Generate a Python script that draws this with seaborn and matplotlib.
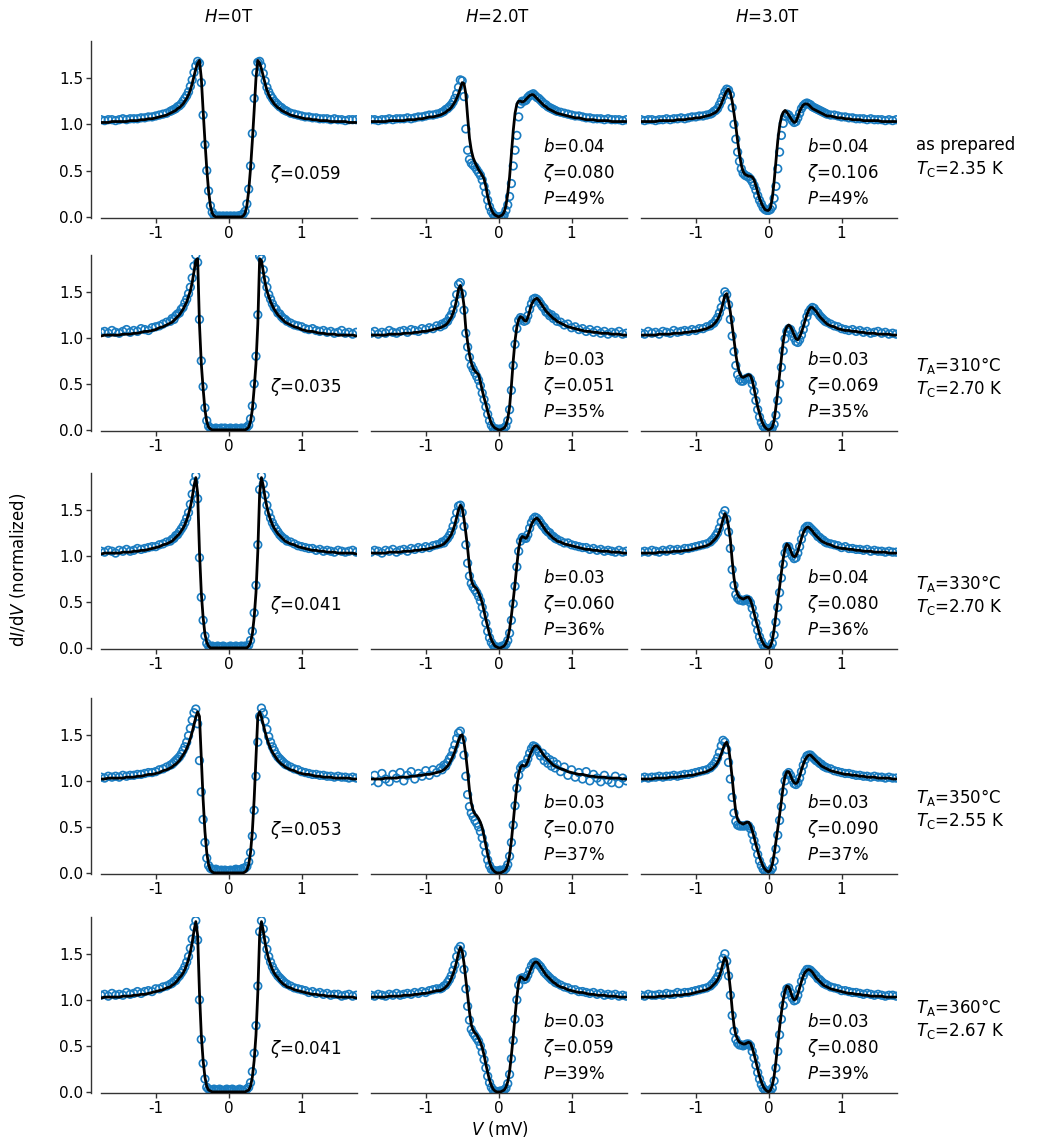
import numpy as np
import pandas as pd
import seaborn as sns
import matplotlib
matplotlib.use("Agg")
import matplotlib.pyplot as plt

# ---------------- data ----------------
V_MV = [-1.75, -1.70, -1.65, -1.60, -1.55, -1.50, -1.45, -1.40, -1.35, -1.30, -1.25, -1.20, -1.15, -1.10, -1.05, -1.00, -0.95, -0.90, -0.85,
        -0.800, -0.775, -0.750, -0.725, -0.700, -0.675, -0.650, -0.625, -0.600, -0.575, -0.550, -0.525, -0.500, -0.475, -0.450, -0.425,
        -0.400, -0.375, -0.350, -0.325, -0.300, -0.275, -0.250, -0.225, -0.200, -0.175, -0.150, -0.125, -0.100, -0.075, -0.050, -0.025,
        0.000,
        0.025, 0.050, 0.075, 0.100, 0.125, 0.150, 0.175, 0.200, 0.225, 0.250, 0.275, 0.300, 0.325, 0.350, 0.375, 0.400,
        0.425, 0.450, 0.475, 0.500, 0.525, 0.550, 0.575, 0.600, 0.625, 0.650, 0.675, 0.700, 0.725, 0.750, 0.775, 0.800,
        0.85, 0.90, 0.95, 1.00, 1.05, 1.10, 1.15, 1.20, 1.25, 1.30, 1.35, 1.40, 1.45, 1.50, 1.55, 1.60, 1.65, 1.70, 1.75]

# ----- row 1: as prepared -----
FIT_R1_H0 = [1.02, 1.02, 1.02, 1.03, 1.03, 1.03, 1.03, 1.03, 1.04, 1.04, 1.04, 1.05, 1.05, 1.06, 1.06, 1.07, 1.08, 1.09, 1.10,
             1.12, 1.13, 1.14, 1.15, 1.17, 1.18, 1.20, 1.22, 1.25, 1.28, 1.32, 1.37, 1.44, 1.52, 1.60, 1.66, 1.69, 1.50, 1.15, 0.82, 0.52, 0.28, 0.12, 0.04, 0.01, 0.00, 0.00, 0.00, 0.00, 0.00, 0.00, 0.00,
             0.00,
             0.00, 0.00, 0.00, 0.00, 0.00, 0.00, 0.00, 0.01, 0.04, 0.12, 0.28, 0.52, 0.82, 1.15, 1.50, 1.69, 1.66, 1.60, 1.52, 1.44, 1.37, 1.32, 1.28, 1.25, 1.22, 1.20, 1.18, 1.17, 1.15, 1.14, 1.13, 1.12,
             1.10, 1.09, 1.08, 1.07, 1.06, 1.06, 1.05, 1.05, 1.04, 1.04, 1.04, 1.03, 1.03, 1.03, 1.03, 1.03, 1.02, 1.02, 1.02]
DAT_R1_H0 = [1.05, 1.04, 1.05, 1.05, 1.04, 1.05, 1.06, 1.05, 1.06, 1.06, 1.06, 1.07, 1.07, 1.08, 1.08, 1.09, 1.10, 1.11, 1.12,
             1.14, 1.15, 1.16, 1.17, 1.19, 1.20, 1.22, 1.25, 1.28, 1.31, 1.35, 1.41, 1.48, 1.56, 1.63, 1.68, 1.66, 1.45, 1.10, 0.78, 0.50, 0.28, 0.12, 0.05, 0.02, 0.01, 0.00, 0.01, 0.00, 0.01, 0.00, 0.01,
             0.00,
             0.01, 0.00, 0.01, 0.00, 0.01, 0.01, 0.02, 0.03, 0.06, 0.14, 0.30, 0.55, 0.90, 1.28, 1.56, 1.67, 1.68, 1.63, 1.55, 1.47, 1.40, 1.35, 1.31, 1.28, 1.25, 1.23, 1.21, 1.19, 1.18, 1.16, 1.15, 1.14,
             1.12, 1.11, 1.10, 1.09, 1.08, 1.08, 1.07, 1.07, 1.06, 1.06, 1.06, 1.05, 1.06, 1.05, 1.05, 1.04, 1.05, 1.05, 1.05]
FIT_R1_H2 = [1.03, 1.03, 1.03, 1.03, 1.03, 1.04, 1.04, 1.04, 1.04, 1.04, 1.05, 1.05, 1.05, 1.06, 1.06, 1.07, 1.08, 1.08, 1.09,
             1.10, 1.11, 1.12, 1.13, 1.15, 1.16, 1.18, 1.21, 1.24, 1.28, 1.33, 1.39, 1.45, 1.44, 1.33, 1.08, 0.85, 0.72, 0.64, 0.59, 0.55, 0.51, 0.48, 0.45, 0.41, 0.33, 0.22, 0.14, 0.08, 0.04, 0.02, 0.01,
             0.00,
             0.01, 0.02, 0.05, 0.12, 0.25, 0.43, 0.68, 0.93, 1.12, 1.22, 1.25, 1.25, 1.24, 1.25, 1.27, 1.29, 1.31, 1.32, 1.32, 1.30, 1.28, 1.26, 1.24, 1.22, 1.20, 1.19, 1.17, 1.16, 1.15, 1.14, 1.13, 1.12,
             1.11, 1.10, 1.09, 1.08, 1.07, 1.07, 1.06, 1.05, 1.05, 1.05, 1.04, 1.04, 1.04, 1.04, 1.03, 1.03, 1.03, 1.03, 1.03]
DAT_R1_H2 = [1.05, 1.05, 1.04, 1.05, 1.05, 1.06, 1.05, 1.06, 1.06, 1.06, 1.07, 1.06, 1.07, 1.08, 1.08, 1.09, 1.10, 1.10, 1.11,
             1.12, 1.13, 1.14, 1.16, 1.17, 1.19, 1.21, 1.24, 1.28, 1.33, 1.40, 1.48, 1.47, 1.30, 0.95, 0.72, 0.62, 0.58, 0.56, 0.54, 0.51, 0.48, 0.45, 0.40, 0.33, 0.26, 0.18, 0.11, 0.06, 0.03, 0.01, 0.00,
             0.00,
             0.00, 0.01, 0.02, 0.07, 0.13, 0.22, 0.36, 0.55, 0.72, 0.88, 1.08, 1.22, 1.25, 1.25, 1.26, 1.29, 1.31, 1.32, 1.33, 1.31, 1.29, 1.28, 1.26, 1.24, 1.22, 1.21, 1.19, 1.18, 1.17, 1.16, 1.15, 1.14,
             1.13, 1.12, 1.11, 1.10, 1.09, 1.09, 1.08, 1.07, 1.07, 1.06, 1.06, 1.06, 1.05, 1.06, 1.05, 1.05, 1.05, 1.04, 1.05]
FIT_R1_H3 = [1.03, 1.03, 1.03, 1.03, 1.03, 1.04, 1.04, 1.04, 1.04, 1.04, 1.05, 1.05, 1.05, 1.06, 1.06, 1.07, 1.07, 1.08, 1.09,
             1.10, 1.11, 1.12, 1.13, 1.15, 1.18, 1.22, 1.27, 1.32, 1.36, 1.38, 1.34, 1.25, 1.12, 0.98, 0.82, 0.68, 0.56, 0.49, 0.46, 0.45, 0.44, 0.44, 0.43, 0.40, 0.34, 0.27, 0.20, 0.15, 0.11, 0.08, 0.07,
             0.07,
             0.10, 0.20, 0.38, 0.60, 0.82, 0.98, 1.08, 1.13, 1.15, 1.13, 1.10, 1.07, 1.04, 1.02, 1.03, 1.08, 1.14, 1.18, 1.21, 1.22, 1.22, 1.21, 1.19, 1.17, 1.16, 1.15, 1.14, 1.13, 1.12, 1.11, 1.10, 1.09,
             1.09, 1.08, 1.07, 1.07, 1.06, 1.06, 1.05, 1.05, 1.05, 1.04, 1.04, 1.04, 1.04, 1.04, 1.03, 1.03, 1.03, 1.03, 1.03]
DAT_R1_H3 = [1.05, 1.04, 1.05, 1.05, 1.04, 1.05, 1.05, 1.06, 1.05, 1.06, 1.06, 1.07, 1.06, 1.07, 1.08, 1.08, 1.09, 1.09, 1.10,
             1.11, 1.12, 1.14, 1.15, 1.17, 1.21, 1.25, 1.30, 1.35, 1.38, 1.37, 1.32, 1.18, 1.00, 0.84, 0.70, 0.60, 0.52, 0.47, 0.45, 0.44, 0.43, 0.41, 0.38, 0.34, 0.29, 0.23, 0.18, 0.14, 0.10, 0.08, 0.07,
             0.07,
             0.08, 0.11, 0.20, 0.33, 0.52, 0.70, 0.88, 1.01, 1.09, 1.11, 1.10, 1.07, 1.04, 1.02, 1.03, 1.07, 1.12, 1.17, 1.20, 1.22, 1.23, 1.22, 1.21, 1.19, 1.18, 1.17, 1.16, 1.15, 1.14, 1.13, 1.12, 1.11,
             1.10, 1.10, 1.09, 1.08, 1.08, 1.07, 1.07, 1.06, 1.06, 1.06, 1.05, 1.06, 1.05, 1.05, 1.05, 1.04, 1.05, 1.04, 1.05]

# ----- row 2: TA = 310 C -----
FIT_R2_H0 = [1.02, 1.03, 1.03, 1.03, 1.03, 1.03, 1.04, 1.04, 1.04, 1.05, 1.05, 1.06, 1.07, 1.07, 1.08, 1.09, 1.11, 1.12, 1.14,
             1.16, 1.17, 1.19, 1.21, 1.23, 1.25, 1.28, 1.31, 1.35, 1.39, 1.45, 1.51, 1.60, 1.72, 1.84, 1.86, 1.15, 0.72, 0.45, 0.22, 0.09, 0.03, 0.01, 0.00, 0.00, 0.00, 0.00, 0.00, 0.00, 0.00, 0.00, 0.00,
             0.00,
             0.00, 0.00, 0.00, 0.00, 0.00, 0.00, 0.00, 0.00, 0.00, 0.01, 0.03, 0.09, 0.22, 0.45, 0.72, 1.15, 1.86, 1.84, 1.72, 1.60, 1.51, 1.45, 1.39, 1.35, 1.31, 1.28, 1.25, 1.23, 1.21, 1.19, 1.17, 1.16,
             1.14, 1.12, 1.11, 1.09, 1.08, 1.07, 1.07, 1.06, 1.05, 1.05, 1.04, 1.04, 1.04, 1.03, 1.03, 1.03, 1.03, 1.03, 1.02]
DAT_R2_H0 = [1.06, 1.07, 1.05, 1.08, 1.06, 1.05, 1.07, 1.09, 1.06, 1.08, 1.07, 1.10, 1.09, 1.08, 1.11, 1.12, 1.13, 1.15, 1.17,
             1.18, 1.21, 1.20, 1.24, 1.26, 1.27, 1.31, 1.33, 1.38, 1.42, 1.48, 1.55, 1.65, 1.78, 1.90, 1.82, 1.20, 0.75, 0.47, 0.24, 0.10, 0.04, 0.02, 0.01, 0.00, 0.02, 0.01, 0.00, 0.02, 0.01, 0.02, 0.00,
             0.01,
             0.02, 0.00, 0.01, 0.02, 0.00, 0.01, 0.02, 0.01, 0.02, 0.03, 0.05, 0.12, 0.26, 0.50, 0.80, 1.25, 1.89, 1.86, 1.74, 1.63, 1.55, 1.47, 1.42, 1.37, 1.33, 1.31, 1.27, 1.26, 1.23, 1.21, 1.20, 1.18,
             1.16, 1.14, 1.13, 1.12, 1.10, 1.09, 1.10, 1.08, 1.07, 1.08, 1.06, 1.07, 1.05, 1.06, 1.08, 1.05, 1.06, 1.04, 1.06]
FIT_R2_H2 = [1.03, 1.03, 1.03, 1.03, 1.03, 1.04, 1.04, 1.04, 1.04, 1.05, 1.05, 1.05, 1.06, 1.06, 1.07, 1.07, 1.08, 1.09, 1.10,
             1.11, 1.12, 1.13, 1.14, 1.16, 1.19, 1.22, 1.27, 1.33, 1.42, 1.53, 1.57, 1.50, 1.35, 1.10, 0.95, 0.82, 0.73, 0.67, 0.64, 0.62, 0.60, 0.52, 0.43, 0.35, 0.28, 0.20, 0.13, 0.07, 0.04, 0.02, 0.01,
             0.00,
             0.00, 0.01, 0.02, 0.05, 0.12, 0.25, 0.48, 0.75, 0.97, 1.12, 1.20, 1.23, 1.22, 1.19, 1.18, 1.22, 1.29, 1.36, 1.40, 1.42, 1.43, 1.41, 1.38, 1.35, 1.32, 1.29, 1.27, 1.25, 1.23, 1.21, 1.20, 1.18,
             1.16, 1.14, 1.12, 1.11, 1.10, 1.09, 1.08, 1.07, 1.07, 1.06, 1.06, 1.05, 1.05, 1.05, 1.04, 1.04, 1.04, 1.03, 1.03]
DAT_R2_H2 = [1.05, 1.07, 1.04, 1.06, 1.05, 1.08, 1.06, 1.05, 1.07, 1.08, 1.06, 1.09, 1.08, 1.07, 1.10, 1.09, 1.11, 1.10, 1.13,
             1.12, 1.15, 1.14, 1.17, 1.18, 1.22, 1.25, 1.30, 1.37, 1.47, 1.58, 1.60, 1.48, 1.30, 1.05, 0.90, 0.79, 0.70, 0.66, 0.62, 0.58, 0.54, 0.48, 0.40, 0.33, 0.25, 0.17, 0.10, 0.05, 0.02, 0.01, 0.01,
             0.00,
             0.01, 0.00, 0.02, 0.04, 0.10, 0.22, 0.43, 0.70, 0.93, 1.10, 1.19, 1.22, 1.21, 1.18, 1.19, 1.24, 1.31, 1.37, 1.42, 1.43, 1.42, 1.40, 1.37, 1.34, 1.32, 1.28, 1.27, 1.24, 1.25, 1.21, 1.22, 1.18,
             1.17, 1.14, 1.15, 1.11, 1.12, 1.09, 1.10, 1.07, 1.09, 1.06, 1.08, 1.05, 1.07, 1.04, 1.06, 1.05, 1.07, 1.04, 1.05]
FIT_R2_H3 = [1.03, 1.03, 1.03, 1.03, 1.03, 1.04, 1.04, 1.04, 1.04, 1.05, 1.05, 1.05, 1.06, 1.06, 1.07, 1.07, 1.08, 1.09, 1.10,
             1.12, 1.13, 1.15, 1.17, 1.20, 1.24, 1.30, 1.38, 1.46, 1.48, 1.40, 1.28, 1.13, 0.98, 0.82, 0.70, 0.62, 0.58, 0.57, 0.58, 0.59, 0.60, 0.59, 0.54, 0.45, 0.35, 0.25, 0.18, 0.11, 0.06, 0.03, 0.01,
             0.00,
             0.01, 0.03, 0.10, 0.25, 0.42, 0.60, 0.78, 0.96, 1.07, 1.12, 1.14, 1.12, 1.08, 1.03, 0.99, 0.98, 1.01, 1.06, 1.12, 1.19, 1.25, 1.30, 1.33, 1.33, 1.31, 1.29, 1.26, 1.23, 1.21, 1.19, 1.17, 1.15,
             1.13, 1.12, 1.10, 1.09, 1.08, 1.08, 1.07, 1.07, 1.06, 1.06, 1.05, 1.05, 1.05, 1.04, 1.04, 1.04, 1.04, 1.03, 1.03]
DAT_R2_H3 = [1.05, 1.04, 1.07, 1.05, 1.06, 1.04, 1.07, 1.06, 1.05, 1.08, 1.06, 1.07, 1.08, 1.07, 1.09, 1.08, 1.10, 1.10, 1.12,
             1.13, 1.15, 1.16, 1.19, 1.22, 1.27, 1.33, 1.42, 1.50, 1.47, 1.36, 1.20, 1.02, 0.85, 0.70, 0.60, 0.55, 0.53, 0.53, 0.55, 0.56, 0.57, 0.55, 0.50, 0.42, 0.32, 0.22, 0.14, 0.08, 0.04, 0.02, 0.01,
             0.01,
             0.02, 0.02, 0.06, 0.16, 0.32, 0.50, 0.68, 0.86, 0.99, 1.07, 1.10, 1.09, 1.05, 1.00, 0.96, 0.95, 0.98, 1.03, 1.09, 1.16, 1.23, 1.28, 1.31, 1.33, 1.32, 1.29, 1.27, 1.24, 1.22, 1.20, 1.18, 1.17,
             1.15, 1.13, 1.12, 1.10, 1.09, 1.08, 1.09, 1.07, 1.08, 1.06, 1.07, 1.05, 1.06, 1.07, 1.05, 1.06, 1.04, 1.05, 1.04]

# ----- row 3: TA = 330 C -----
FIT_R3_H0 = [1.02, 1.03, 1.03, 1.03, 1.03, 1.03, 1.04, 1.04, 1.04, 1.05, 1.05, 1.06, 1.06, 1.07, 1.08, 1.09, 1.10, 1.12, 1.13,
             1.15, 1.16, 1.18, 1.20, 1.22, 1.24, 1.27, 1.30, 1.34, 1.39, 1.45, 1.53, 1.63, 1.76, 1.85, 1.68, 1.05, 0.60, 0.33, 0.15, 0.06, 0.02, 0.00, 0.00, 0.00, 0.00, 0.00, 0.00, 0.00, 0.00, 0.00, 0.00,
             0.00,
             0.00, 0.00, 0.00, 0.00, 0.00, 0.00, 0.00, 0.00, 0.00, 0.00, 0.02, 0.06, 0.15, 0.33, 0.60, 1.05, 1.68, 1.85, 1.76, 1.63, 1.53, 1.45, 1.39, 1.34, 1.30, 1.27, 1.24, 1.22, 1.20, 1.18, 1.16, 1.15,
             1.13, 1.12, 1.10, 1.09, 1.08, 1.07, 1.06, 1.06, 1.05, 1.05, 1.04, 1.04, 1.04, 1.03, 1.03, 1.03, 1.03, 1.03, 1.02]
DAT_R3_H0 = [1.05, 1.04, 1.06, 1.05, 1.03, 1.06, 1.05, 1.07, 1.05, 1.06, 1.08, 1.07, 1.08, 1.09, 1.10, 1.10, 1.12, 1.13, 1.15,
             1.16, 1.18, 1.19, 1.22, 1.23, 1.26, 1.29, 1.32, 1.36, 1.41, 1.47, 1.56, 1.67, 1.80, 1.87, 1.62, 0.98, 0.55, 0.30, 0.13, 0.05, 0.02, 0.01, 0.02, 0.00, 0.01, 0.02, 0.00, 0.01, 0.02, 0.01, 0.00,
             0.01,
             0.02, 0.00, 0.01, 0.02, 0.01, 0.00, 0.02, 0.01, 0.02, 0.01, 0.03, 0.08, 0.18, 0.38, 0.68, 1.12, 1.72, 1.87, 1.78, 1.66, 1.55, 1.47, 1.41, 1.36, 1.32, 1.29, 1.26, 1.23, 1.21, 1.19, 1.18, 1.16,
             1.15, 1.13, 1.11, 1.10, 1.09, 1.08, 1.08, 1.06, 1.07, 1.05, 1.06, 1.05, 1.04, 1.06, 1.05, 1.04, 1.05, 1.06, 1.04]
FIT_R3_H2 = [1.03, 1.03, 1.03, 1.03, 1.03, 1.04, 1.04, 1.04, 1.04, 1.05, 1.05, 1.05, 1.06, 1.06, 1.07, 1.07, 1.08, 1.09, 1.10,
             1.11, 1.12, 1.13, 1.15, 1.17, 1.20, 1.23, 1.28, 1.34, 1.42, 1.50, 1.55, 1.52, 1.40, 1.25, 1.08, 0.88, 0.74, 0.68, 0.66, 0.64, 0.60, 0.55, 0.49, 0.40, 0.31, 0.23, 0.15, 0.09, 0.05, 0.02, 0.01,
             0.00,
             0.00, 0.01, 0.02, 0.05, 0.10, 0.20, 0.35, 0.52, 0.70, 0.90, 1.08, 1.18, 1.21, 1.20, 1.19, 1.22, 1.28, 1.34, 1.38, 1.40, 1.41, 1.39, 1.36, 1.33, 1.30, 1.27, 1.25, 1.23, 1.21, 1.19, 1.18, 1.16,
             1.15, 1.13, 1.12, 1.11, 1.10, 1.09, 1.08, 1.07, 1.07, 1.06, 1.06, 1.05, 1.05, 1.05, 1.04, 1.04, 1.04, 1.03, 1.03]
DAT_R3_H2 = [1.04, 1.06, 1.05, 1.03, 1.06, 1.05, 1.07, 1.04, 1.06, 1.07, 1.05, 1.08, 1.07, 1.09, 1.08, 1.10, 1.09, 1.11, 1.12,
             1.13, 1.15, 1.14, 1.17, 1.19, 1.22, 1.26, 1.32, 1.39, 1.47, 1.54, 1.55, 1.47, 1.32, 1.12, 0.92, 0.78, 0.70, 0.66, 0.63, 0.60, 0.56, 0.51, 0.44, 0.36, 0.27, 0.18, 0.11, 0.06, 0.03, 0.01, 0.01,
             0.00,
             0.01, 0.02, 0.02, 0.04, 0.08, 0.16, 0.30, 0.48, 0.67, 0.88, 1.05, 1.16, 1.20, 1.19, 1.19, 1.23, 1.30, 1.36, 1.40, 1.42, 1.41, 1.39, 1.36, 1.33, 1.31, 1.28, 1.26, 1.25, 1.22, 1.21, 1.19, 1.18,
             1.16, 1.14, 1.14, 1.12, 1.11, 1.10, 1.09, 1.09, 1.07, 1.08, 1.06, 1.07, 1.05, 1.06, 1.05, 1.04, 1.06, 1.04, 1.05]
FIT_R3_H3 = [1.03, 1.03, 1.03, 1.03, 1.03, 1.04, 1.04, 1.04, 1.04, 1.05, 1.05, 1.05, 1.06, 1.06, 1.07, 1.08, 1.09, 1.10, 1.11,
             1.13, 1.15, 1.17, 1.19, 1.22, 1.26, 1.32, 1.40, 1.46, 1.42, 1.32, 1.18, 0.95, 0.76, 0.64, 0.58, 0.55, 0.54, 0.53, 0.54, 0.55, 0.55, 0.52, 0.46, 0.38, 0.30, 0.23, 0.15, 0.09, 0.05, 0.02, 0.01,
             0.00,
             0.02, 0.08, 0.20, 0.36, 0.52, 0.66, 0.82, 0.97, 1.08, 1.13, 1.11, 1.06, 1.01, 0.99, 1.00, 1.05, 1.12, 1.19, 1.25, 1.29, 1.31, 1.31, 1.29, 1.27, 1.24, 1.22, 1.20, 1.18, 1.16, 1.15, 1.14, 1.13,
             1.12, 1.10, 1.09, 1.08, 1.08, 1.07, 1.07, 1.06, 1.06, 1.05, 1.05, 1.05, 1.04, 1.04, 1.04, 1.04, 1.03, 1.03, 1.03]
DAT_R3_H3 = [1.04, 1.05, 1.04, 1.06, 1.05, 1.04, 1.06, 1.05, 1.07, 1.06, 1.07, 1.06, 1.08, 1.08, 1.09, 1.10, 1.11, 1.12, 1.13,
             1.15, 1.17, 1.19, 1.22, 1.25, 1.30, 1.37, 1.45, 1.49, 1.40, 1.26, 1.08, 0.85, 0.68, 0.58, 0.54, 0.52, 0.52, 0.51, 0.52, 0.53, 0.52, 0.49, 0.43, 0.35, 0.27, 0.19, 0.12, 0.07, 0.03, 0.01, 0.00,
             0.00,
             0.01, 0.05, 0.14, 0.28, 0.44, 0.60, 0.76, 0.91, 1.03, 1.10, 1.10, 1.05, 1.00, 0.97, 0.98, 1.03, 1.10, 1.18, 1.25, 1.30, 1.32, 1.32, 1.30, 1.28, 1.26, 1.24, 1.21, 1.20, 1.18, 1.17, 1.15, 1.14,
             1.13, 1.12, 1.11, 1.09, 1.10, 1.08, 1.08, 1.07, 1.07, 1.06, 1.07, 1.05, 1.06, 1.05, 1.05, 1.04, 1.05, 1.04, 1.04]

# ----- row 4: TA = 350 C -----
FIT_R4_H0 = [1.02, 1.02, 1.03, 1.03, 1.03, 1.03, 1.03, 1.04, 1.04, 1.04, 1.05, 1.05, 1.06, 1.07, 1.07, 1.08, 1.09, 1.11, 1.12,
             1.14, 1.15, 1.17, 1.18, 1.20, 1.22, 1.25, 1.28, 1.31, 1.35, 1.40, 1.46, 1.53, 1.61, 1.69, 1.75, 1.70, 1.25, 0.80, 0.45, 0.22, 0.09, 0.03, 0.01, 0.00, 0.00, 0.00, 0.00, 0.00, 0.00, 0.00, 0.00,
             0.00,
             0.00, 0.00, 0.00, 0.00, 0.00, 0.00, 0.00, 0.00, 0.01, 0.03, 0.09, 0.22, 0.45, 0.80, 1.25, 1.70, 1.75, 1.69, 1.61, 1.53, 1.46, 1.40, 1.35, 1.31, 1.28, 1.25, 1.22, 1.20, 1.18, 1.17, 1.15, 1.14,
             1.12, 1.11, 1.09, 1.08, 1.07, 1.07, 1.06, 1.05, 1.05, 1.04, 1.04, 1.04, 1.03, 1.03, 1.03, 1.03, 1.03, 1.02, 1.02]
DAT_R4_H0 = [1.04, 1.03, 1.05, 1.04, 1.05, 1.04, 1.06, 1.05, 1.06, 1.06, 1.07, 1.07, 1.08, 1.09, 1.09, 1.10, 1.12, 1.13, 1.15,
             1.17, 1.18, 1.20, 1.22, 1.24, 1.26, 1.29, 1.33, 1.37, 1.42, 1.49, 1.57, 1.66, 1.74, 1.78, 1.62, 1.22, 0.88, 0.58, 0.33, 0.16, 0.08, 0.05, 0.04, 0.03, 0.04, 0.03, 0.02, 0.03, 0.02, 0.03, 0.02,
             0.02,
             0.03, 0.02, 0.03, 0.04, 0.03, 0.03, 0.04, 0.05, 0.05, 0.07, 0.12, 0.22, 0.40, 0.68, 1.05, 1.42, 1.70, 1.79, 1.74, 1.65, 1.56, 1.48, 1.42, 1.37, 1.33, 1.29, 1.26, 1.24, 1.22, 1.20, 1.18, 1.17,
             1.15, 1.13, 1.12, 1.10, 1.09, 1.08, 1.07, 1.07, 1.06, 1.06, 1.05, 1.05, 1.04, 1.05, 1.04, 1.04, 1.03, 1.04, 1.03]
FIT_R4_H2 = [1.02, 1.02, 1.02, 1.02, 1.03, 1.03, 1.03, 1.03, 1.04, 1.04, 1.04, 1.05, 1.05, 1.06, 1.06, 1.07, 1.07, 1.08, 1.09,
             1.10, 1.11, 1.12, 1.14, 1.16, 1.19, 1.23, 1.27, 1.32, 1.38, 1.44, 1.49, 1.50, 1.42, 1.28, 1.10, 0.90, 0.76, 0.68, 0.64, 0.62, 0.59, 0.55, 0.49, 0.40, 0.30, 0.20, 0.12, 0.06, 0.03, 0.01, 0.00,
             0.00,
             0.00, 0.01, 0.02, 0.04, 0.09, 0.19, 0.35, 0.55, 0.76, 0.95, 1.08, 1.15, 1.17, 1.16, 1.17, 1.21, 1.27, 1.32, 1.36, 1.38, 1.38, 1.36, 1.33, 1.30, 1.27, 1.25, 1.23, 1.21, 1.19, 1.17, 1.16, 1.15,
             1.13, 1.12, 1.10, 1.09, 1.08, 1.07, 1.07, 1.06, 1.05, 1.05, 1.04, 1.04, 1.04, 1.03, 1.03, 1.03, 1.03, 1.02, 1.02]
DAT_R4_H2 = [1.00, 1.06, 0.98, 1.08, 1.02, 0.99, 1.07, 1.03, 1.09, 1.00, 1.06, 1.10, 1.02, 1.08, 1.05, 1.11, 1.06, 1.12, 1.09,
             1.14, 1.12, 1.17, 1.16, 1.20, 1.24, 1.27, 1.33, 1.39, 1.46, 1.52, 1.54, 1.45, 1.28, 1.05, 0.85, 0.72, 0.65, 0.61, 0.57, 0.54, 0.50, 0.45, 0.38, 0.30, 0.22, 0.14, 0.08, 0.04, 0.03, 0.02, 0.02,
             0.02,
             0.03, 0.02, 0.03, 0.05, 0.09, 0.18, 0.33, 0.52, 0.73, 0.92, 1.06, 1.14, 1.17, 1.18, 1.19, 1.24, 1.30, 1.35, 1.38, 1.37, 1.35, 1.31, 1.27, 1.30, 1.22, 1.26, 1.19, 1.23, 1.16, 1.21, 1.14, 1.18,
             1.10, 1.15, 1.06, 1.12, 1.04, 1.09, 1.02, 1.10, 1.00, 1.07, 1.03, 0.99, 1.06, 1.01, 0.98, 1.05, 0.97, 1.03, 1.00]
FIT_R4_H3 = [1.02, 1.02, 1.02, 1.02, 1.03, 1.03, 1.03, 1.03, 1.04, 1.04, 1.04, 1.05, 1.05, 1.06, 1.06, 1.07, 1.08, 1.09, 1.10,
             1.12, 1.13, 1.15, 1.17, 1.20, 1.24, 1.29, 1.35, 1.40, 1.42, 1.36, 1.22, 1.03, 0.83, 0.66, 0.58, 0.55, 0.54, 0.53, 0.54, 0.55, 0.55, 0.52, 0.46, 0.39, 0.31, 0.24, 0.17, 0.12, 0.07, 0.04, 0.02,
             0.01,
             0.03, 0.09, 0.20, 0.34, 0.48, 0.63, 0.78, 0.94, 1.05, 1.10, 1.10, 1.06, 1.01, 0.98, 0.97, 0.99, 1.05, 1.12, 1.18, 1.23, 1.26, 1.28, 1.28, 1.26, 1.24, 1.22, 1.20, 1.18, 1.16, 1.15, 1.14, 1.13,
             1.11, 1.10, 1.09, 1.08, 1.07, 1.07, 1.06, 1.06, 1.05, 1.05, 1.04, 1.04, 1.04, 1.03, 1.03, 1.03, 1.03, 1.02, 1.02]
DAT_R4_H3 = [1.03, 1.04, 1.03, 1.04, 1.04, 1.05, 1.04, 1.05, 1.05, 1.06, 1.05, 1.06, 1.07, 1.07, 1.08, 1.09, 1.10, 1.11, 1.12,
             1.14, 1.16, 1.18, 1.21, 1.25, 1.31, 1.38, 1.44, 1.42, 1.34, 1.20, 1.02, 0.82, 0.65, 0.56, 0.52, 0.51, 0.51, 0.51, 0.51, 0.52, 0.51, 0.48, 0.42, 0.35, 0.28, 0.20, 0.13, 0.08, 0.04, 0.02, 0.01,
             0.01,
             0.02, 0.05, 0.13, 0.26, 0.41, 0.57, 0.72, 0.88, 1.00, 1.07, 1.09, 1.06, 1.01, 0.97, 0.96, 0.98, 1.03, 1.10, 1.17, 1.23, 1.27, 1.28, 1.28, 1.26, 1.24, 1.22, 1.21, 1.19, 1.18, 1.16, 1.15, 1.14,
             1.13, 1.11, 1.10, 1.09, 1.08, 1.08, 1.07, 1.06, 1.06, 1.05, 1.05, 1.04, 1.05, 1.04, 1.04, 1.03, 1.04, 1.03, 1.03]

# ----- row 5: TA = 360 C -----
FIT_R5_H0 = [1.02, 1.03, 1.03, 1.03, 1.03, 1.03, 1.04, 1.04, 1.04, 1.05, 1.05, 1.06, 1.06, 1.07, 1.08, 1.09, 1.10, 1.11, 1.13,
             1.14, 1.16, 1.17, 1.19, 1.21, 1.24, 1.26, 1.29, 1.33, 1.38, 1.44, 1.52, 1.62, 1.75, 1.85, 1.70, 1.08, 0.62, 0.34, 0.16, 0.06, 0.02, 0.01, 0.00, 0.00, 0.00, 0.00, 0.00, 0.00, 0.00, 0.00, 0.00,
             0.00,
             0.00, 0.00, 0.00, 0.00, 0.00, 0.00, 0.00, 0.00, 0.00, 0.01, 0.02, 0.06, 0.16, 0.34, 0.62, 1.08, 1.70, 1.85, 1.75, 1.62, 1.52, 1.44, 1.38, 1.33, 1.29, 1.26, 1.24, 1.21, 1.19, 1.17, 1.16, 1.14,
             1.13, 1.11, 1.10, 1.09, 1.08, 1.07, 1.06, 1.06, 1.05, 1.05, 1.04, 1.04, 1.04, 1.03, 1.03, 1.03, 1.03, 1.03, 1.02]
DAT_R5_H0 = [1.05, 1.06, 1.04, 1.07, 1.05, 1.06, 1.05, 1.08, 1.06, 1.07, 1.09, 1.07, 1.09, 1.10, 1.09, 1.12, 1.12, 1.14, 1.15,
             1.17, 1.18, 1.20, 1.21, 1.24, 1.26, 1.29, 1.32, 1.36, 1.41, 1.47, 1.56, 1.66, 1.79, 1.86, 1.65, 1.00, 0.57, 0.31, 0.14, 0.05, 0.03, 0.02, 0.01, 0.03, 0.02, 0.01, 0.03, 0.02, 0.01, 0.02, 0.03,
             0.02,
             0.01, 0.03, 0.02, 0.01, 0.02, 0.03, 0.02, 0.01, 0.02, 0.03, 0.05, 0.10, 0.22, 0.42, 0.72, 1.15, 1.74, 1.86, 1.77, 1.65, 1.55, 1.47, 1.41, 1.36, 1.32, 1.29, 1.26, 1.24, 1.22, 1.20, 1.18, 1.17,
             1.15, 1.13, 1.12, 1.11, 1.10, 1.08, 1.09, 1.07, 1.08, 1.06, 1.07, 1.05, 1.06, 1.06, 1.04, 1.05, 1.06, 1.04, 1.05]
FIT_R5_H2 = [1.03, 1.03, 1.03, 1.03, 1.03, 1.04, 1.04, 1.04, 1.04, 1.05, 1.05, 1.05, 1.06, 1.06, 1.07, 1.07, 1.08, 1.09, 1.10,
             1.10, 1.11, 1.12, 1.14, 1.16, 1.19, 1.23, 1.28, 1.34, 1.42, 1.51, 1.57, 1.53, 1.40, 1.22, 1.05, 0.87, 0.73, 0.67, 0.64, 0.62, 0.58, 0.54, 0.48, 0.40, 0.30, 0.21, 0.13, 0.07, 0.03, 0.01, 0.00,
             0.00,
             0.00, 0.01, 0.02, 0.05, 0.11, 0.22, 0.40, 0.60, 0.82, 1.03, 1.19, 1.25, 1.24, 1.22, 1.22, 1.25, 1.30, 1.35, 1.39, 1.41, 1.41, 1.39, 1.36, 1.33, 1.30, 1.27, 1.25, 1.23, 1.21, 1.19, 1.18, 1.16,
             1.14, 1.13, 1.11, 1.10, 1.09, 1.08, 1.08, 1.07, 1.06, 1.06, 1.05, 1.05, 1.05, 1.04, 1.04, 1.04, 1.03, 1.03, 1.03]
DAT_R5_H2 = [1.05, 1.04, 1.06, 1.05, 1.04, 1.06, 1.05, 1.07, 1.05, 1.06, 1.07, 1.06, 1.08, 1.07, 1.09, 1.08, 1.10, 1.11, 1.12,
             1.12, 1.13, 1.15, 1.16, 1.19, 1.22, 1.26, 1.32, 1.38, 1.47, 1.55, 1.58, 1.50, 1.33, 1.12, 0.93, 0.78, 0.68, 0.64, 0.61, 0.58, 0.55, 0.50, 0.43, 0.35, 0.26, 0.17, 0.10, 0.05, 0.02, 0.01, 0.00,
             0.00,
             0.01, 0.01, 0.02, 0.04, 0.09, 0.19, 0.36, 0.56, 0.79, 1.00, 1.16, 1.23, 1.24, 1.22, 1.23, 1.27, 1.32, 1.37, 1.40, 1.41, 1.40, 1.38, 1.36, 1.33, 1.30, 1.28, 1.26, 1.24, 1.22, 1.21, 1.19, 1.18,
             1.16, 1.14, 1.13, 1.11, 1.11, 1.09, 1.09, 1.08, 1.07, 1.08, 1.06, 1.07, 1.05, 1.06, 1.05, 1.06, 1.04, 1.05, 1.04]
FIT_R5_H3 = [1.03, 1.03, 1.03, 1.03, 1.03, 1.04, 1.04, 1.04, 1.04, 1.05, 1.05, 1.05, 1.06, 1.06, 1.07, 1.08, 1.09, 1.10, 1.11,
             1.13, 1.15, 1.17, 1.19, 1.22, 1.26, 1.32, 1.40, 1.46, 1.42, 1.30, 1.12, 0.90, 0.72, 0.62, 0.57, 0.54, 0.53, 0.52, 0.52, 0.53, 0.54, 0.53, 0.48, 0.41, 0.33, 0.25, 0.17, 0.11, 0.06, 0.03, 0.01,
             0.00,
             0.02, 0.07, 0.17, 0.33, 0.52, 0.70, 0.86, 1.00, 1.10, 1.15, 1.14, 1.09, 1.03, 1.00, 1.01, 1.06, 1.13, 1.20, 1.26, 1.30, 1.32, 1.33, 1.32, 1.30, 1.27, 1.24, 1.22, 1.20, 1.18, 1.16, 1.15, 1.14,
             1.12, 1.11, 1.10, 1.09, 1.08, 1.07, 1.07, 1.06, 1.06, 1.05, 1.05, 1.04, 1.04, 1.04, 1.04, 1.03, 1.03, 1.03, 1.03]
DAT_R5_H3 = [1.05, 1.04, 1.06, 1.05, 1.05, 1.06, 1.05, 1.07, 1.06, 1.06, 1.08, 1.07, 1.08, 1.08, 1.09, 1.10, 1.11, 1.12, 1.13,
             1.15, 1.17, 1.19, 1.22, 1.25, 1.30, 1.37, 1.45, 1.50, 1.42, 1.26, 1.05, 0.83, 0.66, 0.57, 0.53, 0.51, 0.51, 0.50, 0.51, 0.52, 0.52, 0.50, 0.44, 0.37, 0.29, 0.21, 0.14, 0.08, 0.04, 0.02, 0.01,
             0.00,
             0.01, 0.04, 0.12, 0.26, 0.44, 0.62, 0.79, 0.94, 1.06, 1.12, 1.13, 1.08, 1.02, 0.99, 1.00, 1.05, 1.12, 1.20, 1.26, 1.30, 1.33, 1.33, 1.32, 1.30, 1.28, 1.26, 1.23, 1.22, 1.20, 1.18, 1.17, 1.16,
             1.14, 1.13, 1.12, 1.10, 1.10, 1.09, 1.08, 1.08, 1.07, 1.06, 1.07, 1.06, 1.05, 1.06, 1.05, 1.04, 1.05, 1.05, 1.04]

COLUMN_TITLES = ["$H$=0T", "$H$=2.0T", "$H$=3.0T"]
ROW_LABELS = [("as prepared", "$T_\\mathrm{C}$=2.35 K"),
              ("$T_\\mathrm{A}$=310°C", "$T_\\mathrm{C}$=2.70 K"),
              ("$T_\\mathrm{A}$=330°C", "$T_\\mathrm{C}$=2.70 K"),
              ("$T_\\mathrm{A}$=350°C", "$T_\\mathrm{C}$=2.55 K"),
              ("$T_\\mathrm{A}$=360°C", "$T_\\mathrm{C}$=2.67 K")]
ZETA_0T = ["0.059", "0.035", "0.041", "0.053", "0.041"]
B_2T = ["0.04", "0.03", "0.03", "0.03", "0.03"]
ZETA_2T = ["0.080", "0.051", "0.060", "0.070", "0.059"]
B_3T = ["0.04", "0.03", "0.04", "0.03", "0.03"]
ZETA_3T = ["0.106", "0.069", "0.080", "0.090", "0.080"]
P_PCT = ["49%", "35%", "36%", "37%", "39%"]
X_TICKS = [-1, 0, 1]
X_TICKLABELS = ["-1", "0", "1"]
Y_TICKS = [0.0, 0.5, 1.0, 1.5]
Y_TICKLABELS = ["0.0", "0.5", "1.0", "1.5"]

FITS = [[FIT_R1_H0, FIT_R1_H2, FIT_R1_H3], [FIT_R2_H0, FIT_R2_H2, FIT_R2_H3], [FIT_R3_H0, FIT_R3_H2, FIT_R3_H3],
        [FIT_R4_H0, FIT_R4_H2, FIT_R4_H3], [FIT_R5_H0, FIT_R5_H2, FIT_R5_H3]]
DATS = [[DAT_R1_H0, DAT_R1_H2, DAT_R1_H3], [DAT_R2_H0, DAT_R2_H2, DAT_R2_H3], [DAT_R3_H0, DAT_R3_H2, DAT_R3_H3],
        [DAT_R4_H0, DAT_R4_H2, DAT_R4_H3], [DAT_R5_H0, DAT_R5_H2, DAT_R5_H3]]

for r in range(5):
    for c in range(3):
        assert len(FITS[r][c]) == len(V_MV), ("fit", r, c, len(FITS[r][c]))
        assert len(DATS[r][c]) == len(V_MV), ("dat", r, c, len(DATS[r][c]))

# ---------------- style ----------------
sns.set_style("ticks")
plt.rcParams["font.family"] = ["DejaVu Sans"]
plt.rcParams["mathtext.fontset"] = "dejavusans"
plt.rcParams["axes.unicode_minus"] = False
plt.rcParams["text.color"] = "black"
plt.rcParams["axes.labelcolor"] = "black"

BLUE = "#1a7cc1"
AXC = "#333333"
W, H = 1043, 1145
fig = plt.figure(figsize=(W / 100, H / 100), dpi=100)

COL_LEFT = [101, 371, 641]
COL_W = 256
ROW_TOP = [41, 255, 473, 698, 917]
ROW_BOT = [218, 431, 649, 874, 1093]
COL_X0 = [229, 498, 768]
ROW_LABEL_Y = [145, 365, 583, 797, 1007]
TXT = 12
TICK = 11

for r in range(5):
    for c in range(3):
        ax = fig.add_axes([COL_LEFT[c] / W, 1 - ROW_BOT[r] / H, COL_W / W, (ROW_BOT[r] - ROW_TOP[r]) / H])
        df = pd.DataFrame({"V": V_MV, "data": DATS[r][c], "fit": FITS[r][c]})
        sns.scatterplot(data=df, x="V", y="data", ax=ax, marker="o", s=30, facecolors="none",
                        edgecolor=BLUE, linewidth=1.2, zorder=2, legend=False)
        sns.lineplot(data=df, x="V", y="fit", ax=ax, color="black", lw=2.0, zorder=3, legend=False)
        ax.set_xlim(-1.75, 1.76)
        ax.set_ylim(-0.012, 1.9)
        ax.set_xlabel("")
        ax.set_ylabel("")
        ax.set_xticks(X_TICKS)
        ax.set_xticklabels(X_TICKLABELS)
        for sp in ["top", "right"]:
            ax.spines[sp].set_visible(False)
        ax.spines["bottom"].set_color(AXC)
        ax.spines["bottom"].set_linewidth(1.0)
        ax.tick_params(axis="x", direction="out", length=3.5, width=1.0, color=AXC, labelcolor="black",
                       labelsize=TICK, pad=2.5)
        if c == 0:
            ax.spines["left"].set_position(("outward", 7.5))
            ax.spines["left"].set_color(AXC)
            ax.spines["left"].set_linewidth(1.0)
            ax.set_yticks(Y_TICKS)
            ax.set_yticklabels(Y_TICKLABELS)
            ax.tick_params(axis="y", direction="out", length=3.5, width=1.0, color=AXC, labelcolor="black",
                           labelsize=TICK, pad=2)
        else:
            ax.spines["left"].set_visible(False)
            ax.tick_params(axis="y", left=False, labelleft=False)
        ax.patch.set_alpha(0)

        yb = ROW_BOT[r]
        if c == 0:
            fig.text(270 / W, 1 - (yb - 44) / H, "$\\zeta$=" + ZETA_0T[r], fontsize=TXT, va="center", ha="left")
        else:
            x0 = 543 if c == 1 else 807
            bval = B_2T[r] if c == 1 else B_3T[r]
            zval = ZETA_2T[r] if c == 1 else ZETA_3T[r]
            fig.text(x0 / W, 1 - (yb - 71) / H, "$b$=" + bval, fontsize=TXT, va="center", ha="left")
            fig.text(x0 / W, 1 - (yb - 45) / H, "$\\zeta$=" + zval, fontsize=TXT, va="center", ha="left")
            fig.text(x0 / W, 1 - (yb - 19) / H, "$P$=" + P_PCT[r], fontsize=TXT, va="center", ha="left")

    l1, l2 = ROW_LABELS[r]
    fig.text(916 / W, 1 - ROW_LABEL_Y[r] / H, l1, fontsize=TXT, va="center", ha="left")
    fig.text(916 / W, 1 - (ROW_LABEL_Y[r] + 24) / H, l2, fontsize=TXT, va="center", ha="left")

for c in range(3):
    fig.text(COL_X0[c] / W, 1 - 17 / H, COLUMN_TITLES[c], fontsize=TXT, va="center", ha="center")

fig.text(18 / W, 1 - 570 / H, "d$I$/d$V$ (normalized)", fontsize=TXT, rotation=90, va="center", ha="center")
fig.text(500 / W, 1 - 1129 / H, "$V$ (mV)", fontsize=TXT, va="center", ha="center")

fig.savefig("out.png", dpi=100)
